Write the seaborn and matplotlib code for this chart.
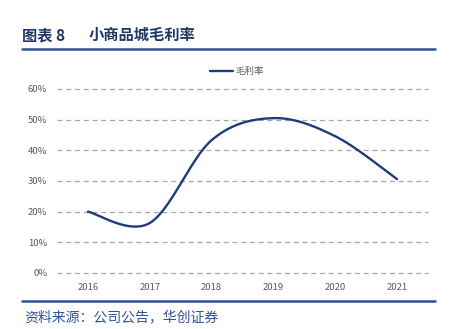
import numpy as np
import pandas as pd
import matplotlib
matplotlib.use("Agg")
import matplotlib.pyplot as plt
import seaborn as sns

years = [2016, 2017, 2018, 2019, 2020, 2021]
gross_margin = [0.200, 0.163, 0.433, 0.505, 0.446, 0.306]
series_name = "毛利率"
y_ticks = [0.0, 0.1, 0.2, 0.3, 0.4, 0.5, 0.6]
y_tick_labels = ["0%", "10%", "20%", "30%", "40%", "50%", "60%"]
title_left = "图表 8"
title_right = "小商品城毛利率"
source_text = "资料来源：公司公告，华创证券"

sns.set_theme(style="white")
plt.rcParams["font.family"] = ["Noto Sans CJK SC", "DejaVu Sans"]

fig = plt.figure(figsize=(4.54, 3.29), dpi=100)
ax = fig.add_axes([57/454, 1-273/329, (428-57)/454, (273-89)/329])

# smooth line (Excel-style Bezier smoothing through the data points)
x = np.array(years, dtype=float)
y = np.array(gross_margin, dtype=float)
xs, ys = [], []
n = len(x)
for i in range(n - 1):
    p0 = (x[i-1], y[i-1]) if i > 0 else (x[i], y[i])
    p1 = (x[i], y[i])
    p2 = (x[i+1], y[i+1])
    p3 = (x[i+2], y[i+2]) if i + 2 < n else (x[i+1], y[i+1])
    c1 = (p1[0] + (p2[0]-p0[0])/6, p1[1] + (p2[1]-p0[1])/6)
    c2 = (p2[0] - (p3[0]-p1[0])/6, p2[1] - (p3[1]-p1[1])/6)
    t = np.linspace(0, 1, 40)
    bx = (1-t)**3*p1[0] + 3*(1-t)**2*t*c1[0] + 3*(1-t)*t**2*c2[0] + t**3*p2[0]
    by = (1-t)**3*p1[1] + 3*(1-t)**2*t*c1[1] + 3*(1-t)*t**2*c2[1] + t**3*p2[1]
    xs.extend(bx); ys.extend(by)
curve = pd.DataFrame({"year": xs, "value": ys, "series": series_name})
sns.lineplot(data=curve, x="year", y="value", hue="series", palette=["#1F3C7A"],
             linewidth=1.7, ax=ax, sort=False, estimator=None)

ax.set_xlim(2015.5, 2021.5)
ax.set_ylim(0, 0.6)
ax.set_yticks(y_ticks)
ax.set_yticklabels(y_tick_labels)
ax.set_xticks(years)
ax.set_xticklabels([str(v) for v in years])
ax.tick_params(axis="both", labelsize=6.8, labelcolor="#595959", length=0)
ax.tick_params(axis="y", pad=7)
ax.tick_params(axis="x", pad=7)
ax.set_xlabel("")
ax.set_ylabel("")
for s in ax.spines.values():
    s.set_visible(False)
ax.set_axisbelow(True)
ax.yaxis.grid(True, color="#A6A6A6", linestyle=(0, (4, 3)), linewidth=0.9)
ax.xaxis.grid(False)
for gl in ax.yaxis.get_gridlines():
    gl.set_clip_on(False)
ax.patch.set_alpha(0)

leg = ax.legend(loc="upper center", bbox_to_anchor=(0.485, 1 + 27/184), frameon=False,
                fontsize=6.8, handlelength=2.4, handletextpad=0.3, borderpad=0)
for t in leg.get_texts():
    t.set_color("#595959")

# title and decorations
fig.text(22/454, 1-35/329, title_left, fontsize=11, fontweight="bold", color="#1F3864",
         va="center", ha="left")
fig.text(89/454, 1-35/329, title_right, fontsize=11, fontweight="bold", color="#1F3864",
         va="center", ha="left")
fig.add_artist(plt.Line2D([22/454, 435/454], [1-48.5/329, 1-48.5/329], color="#2F5496",
                          linewidth=1.8))
fig.add_artist(plt.Line2D([22/454, 435/454], [1-300.5/329, 1-300.5/329], color="#2F5496",
                          linewidth=1.8))
fig.text(24/454, 1-317/329, source_text, fontsize=10, style="italic", color="#2F5496",
         va="center", ha="left")

fig.savefig("out.png", dpi=100)
